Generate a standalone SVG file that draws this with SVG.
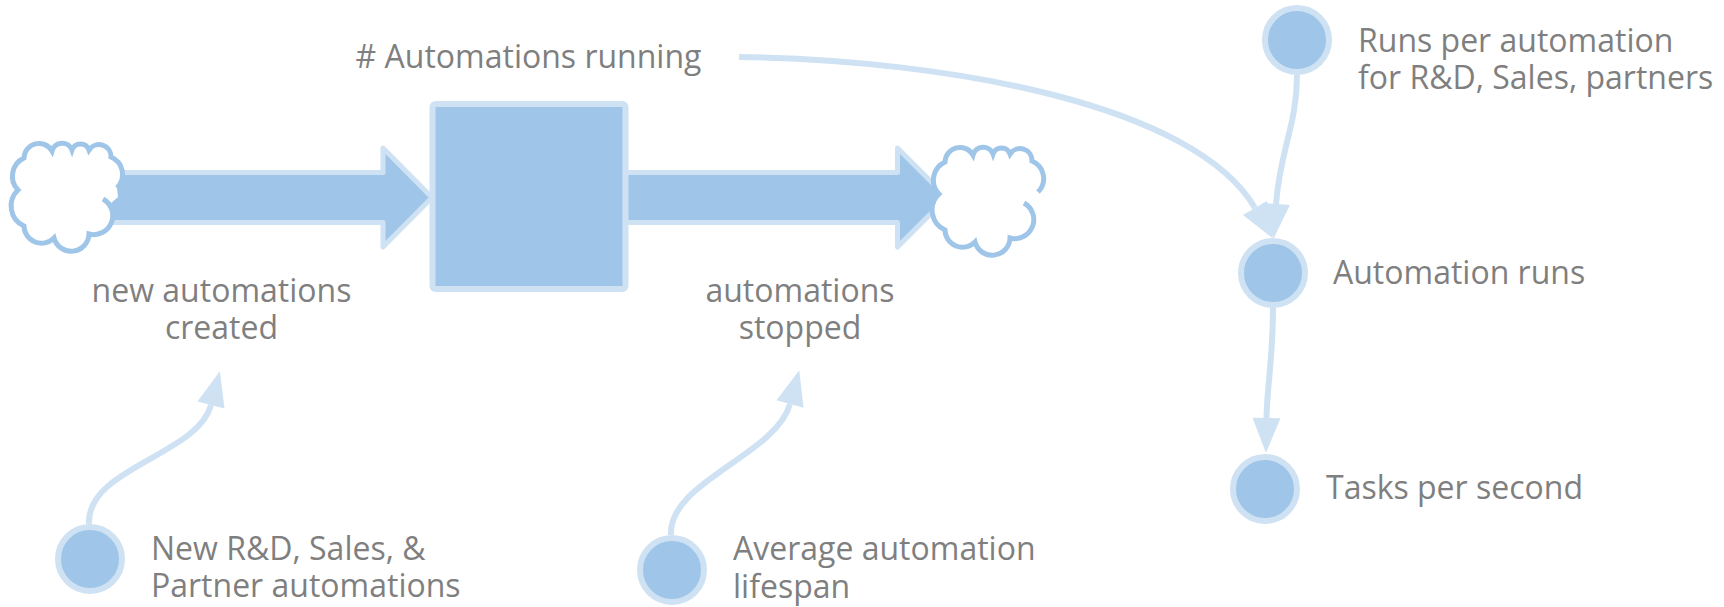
<svg xmlns="http://www.w3.org/2000/svg" width="1724" height="607" viewBox="0 0 1724 607">
  <style>
    .lbl { font-family: "Open Sans", "Liberation Sans", sans-serif; font-size: 32px; fill: #7f7f7f; }
    .mid { text-anchor: middle; }
    .flow { fill: #9fc5e8; stroke: #cfe2f3; stroke-width: 5; stroke-linejoin: round; }
    .stock { fill: #9fc5e8; stroke: #cfe2f3; stroke-width: 6; }
    .var { fill: #9fc5e8; stroke: #cfe2f3; stroke-width: 6; }
    .cloud-fill { fill: #ffffff; stroke: none; }
    .cloud-line { fill: none; stroke: #9fc5e8; stroke-width: 5; stroke-linecap: butt; }
    .link { fill: none; stroke: #cfe2f3; stroke-width: 6; marker-end: url(#head); }
  </style>
  <defs>
    <marker id="head" markerUnits="userSpaceOnUse" markerWidth="36" markerHeight="28" refX="0" refY="14" orient="auto" overflow="visible">
      <path d="M0,0 L35,14 L0,28 Z" fill="#cfe2f3"/>
    </marker>
    <g id="cloud">
      <path class="cloud-fill" d="M103,199 A19,19 0 0 1 89,234 A17.8,17.8 0 0 1 54,238 A17.5,17.5 0 0 1 24,226 A22,22 0 0 1 18,190 A20,20 0 0 1 24,158 A15,15 0 0 1 52,151 A10.5,10.5 0 0 1 72,150 A9,9 0 0 1 89,150 A12,12 0 0 1 111,157 A19,19 0 0 1 117,188 L118,197 L110,204 Z"/>
      <path class="cloud-line" d="M103,199 A19,19 0 0 1 89,234 A17.8,17.8 0 0 1 54,238 A17.5,17.5 0 0 1 24,226 A22,22 0 0 1 18,190 A20,20 0 0 1 24,158 A15,15 0 0 1 52,151 A10.5,10.5 0 0 1 72,150 A9,9 0 0 1 89,150 A12,12 0 0 1 111,157 A19,19 0 0 1 117,188"/>
    </g>
  </defs>

  <rect width="1724" height="607" fill="#ffffff"/>

  <!-- flows: pipe with arrowhead, source/sink clouds -->
  <g id="flow-created">
    <polygon class="flow" points="95,172.5 383,172.5 383,148 432,197.5 383,247 383,222.5 95,222.5"/>
    <use href="#cloud"/>
    <text class="lbl mid" x="221.5" y="301.5">new automations</text>
    <text class="lbl mid" x="221.5" y="339">created</text>
  </g>

  <g id="flow-stopped">
    <polygon class="flow" points="622,172.5 897.5,172.5 897.5,148 947,197.5 897.5,247 897.5,222.5 622,222.5"/>
    <use href="#cloud" transform="translate(921,4)"/>
    <text class="lbl mid" x="800" y="301.5">automations</text>
    <text class="lbl mid" x="800" y="339">stopped</text>
  </g>

  <!-- stock -->
  <g id="stock-running">
    <rect class="stock" x="432.5" y="104" width="193" height="185" rx="3"/>
    <text class="lbl mid" x="528.5" y="68"># Automations running</text>
  </g>

  <!-- links -->
  <g id="connectors">
    <path class="link" d="M89,524 C86,468 198,455 211,405"/>
    <path class="link" d="M671,535 C668,482 776,455 790,404"/>
    <path class="link" d="M739,57 C950,60 1195,105 1255,208"/>
    <path class="link" d="M1297,75 C1297,125 1280,150 1276,204"/>
    <path class="link" d="M1273,308 C1273,360 1267,385 1266.5,418"/>
  </g>

  <!-- variables -->
  <g id="var-new-automations">
    <circle class="var" cx="90" cy="559" r="32"/>
    <text class="lbl" x="151" y="560">New R&amp;D, Sales, &amp;</text>
    <text class="lbl" x="151" y="597">Partner automations</text>
  </g>

  <g id="var-lifespan">
    <circle class="var" cx="672" cy="570" r="32"/>
    <text class="lbl" x="733" y="560">Average automation</text>
    <text class="lbl" x="733" y="598">lifespan</text>
  </g>

  <g id="var-runs-per-automation">
    <circle class="var" cx="1297" cy="40" r="32"/>
    <text class="lbl" x="1358" y="52">Runs per automation</text>
    <text class="lbl" x="1358" y="88.5">for R&amp;D, Sales, partners</text>
  </g>

  <g id="var-automation-runs">
    <circle class="var" cx="1273" cy="273" r="32"/>
    <text class="lbl" x="1333" y="284">Automation runs</text>
  </g>

  <g id="var-tasks-per-second">
    <circle class="var" cx="1265" cy="489" r="32"/>
    <text class="lbl" x="1326" y="499">Tasks per second</text>
  </g>
</svg>
